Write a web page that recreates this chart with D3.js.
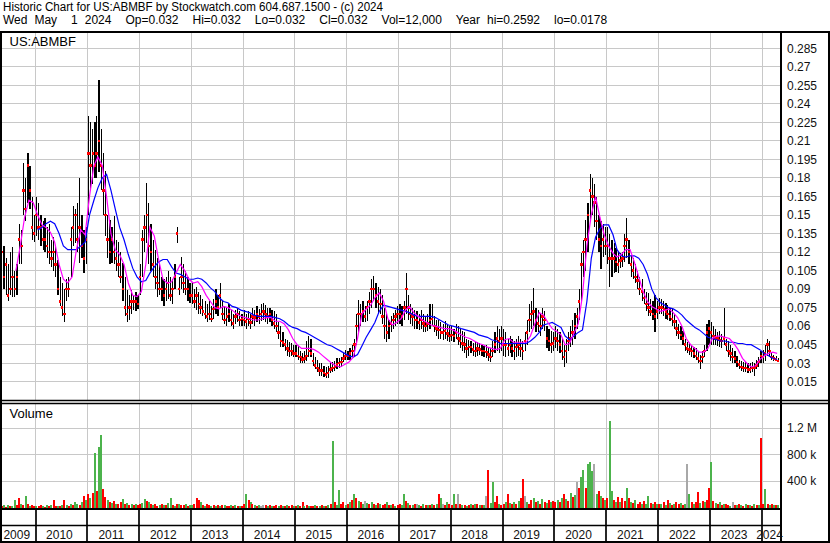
<!DOCTYPE html>
<html><head><meta charset="utf-8">
<script src="https://cdn.jsdelivr.net/npm/d3@7"></script>
<style>body{margin:0;background:#fff;}svg{display:block;font-family:Arial,"Liberation Sans",sans-serif;}</style>
</head><body><svg id="c" width="830" height="543"></svg>
<script>
// ---------- DATA ----------
const years = [2009,2010,2011,2012,2013,2014,2015,2016,2017,2018,2019,2020,2021,2022,2023,2024];
const priceTicks = [0.015,0.03,0.045,0.06,0.075,0.09,0.105,0.12,0.135,0.15,0.165,0.18,0.195,0.21,0.225,0.24,0.255,0.27,0.285];
const priceTickLabels = ["0.015","0.03","0.045","0.06","0.075","0.09","0.105","0.12","0.135","0.15","0.165","0.18","0.195","0.21","0.225","0.24","0.255","0.27","0.285"];
const volTicks = [400,800,1200];            // thousands of shares
const volTickLabels = ["400 k","800 k","1.2 M"];
const headerLine1 = "Historic Chart for US:ABMBF by Stockwatch.com 604.687.1500 - (c) 2024";
const headerLine2 = "Wed May  1 2024  Op=0.032  Hi=0.032  Lo=0.032  Cl=0.032  Vol=12,000  Year hi=0.2592  lo=0.0178";
const symbol = "US:ABMBF";
// half-month bars, first one = first half of May 2009
const hi = [
.13,.125,.115,.11,.12,.124,.105,.11,.143,.138,.192,.18,.2,.19,.165,.15,
.165,.16,.15,.145,.148,.14,.143,.13,.132,.125,.114,.1,.095,.09,.098,.1,.14,.157,.155,.16,.18,.15,.138,.14,
.23,.225,.22,.225,.23,.2592,.22,.2,.186,.15,.146,.14,.149,.13,.128,.12,.111,.1,.089,.085,.089,.085,.088,.085,
.11,.138,.15,.176,.16,.143,.13,.122,.115,.11,.1,.098,.1,.105,.1,.098,.11,.14,.1,.116,.11,.105,.1,.095,
.095,.09,.092,.088,.085,.082,.08,.078,.08,.076,.082,.09,.085,.095,.08,.076,.075,.078,.073,.07,.073,.075,.072,.07,
.073,.07,.072,.07,.075,.073,.076,.074,.078,.079,.077,.075,.075,.073,.072,.07,.063,.06,.055,.05,.049,.047,.046,.045,
.045,.044,.04,.038,.04,.048,.052,.05,.038,.035,.033,.03,.03,.028,.027,.028,.03,.031,.032,.034,.034,.035,.038,.041,
.04,.042,.045,.05,.07,.081,.078,.08,.076,.08,.088,.098,.101,.095,.092,.09,.085,.075,.07,.065,.068,.071,.073,.076,
.078,.076,.08,.103,.085,.078,.075,.073,.072,.07,.073,.07,.068,.07,.078,.078,.068,.065,.065,.063,.062,.064,.062,.06,
.06,.058,.062,.06,.058,.056,.055,.05,.049,.048,.046,.047,.047,.046,.045,.044,.045,.043,.042,.048,.055,.06,.058,.06,
.058,.055,.05,.052,.05,.048,.05,.052,.05,.048,.055,.065,.078,.08,.091,.075,.073,.07,.075,.072,.06,.058,.056,.055,
.06,.058,.055,.05,.045,.05,.055,.06,.065,.071,.075,.09,.119,.13,.146,.16,.183,.18,.175,.165,.15,.145,.143,.14,
.14,.135,.13,.127,.123,.12,.119,.12,.135,.148,.13,.118,.115,.11,.105,.1,.098,.09,.088,.087,.082,.08,.085,.08,
.083,.082,.08,.079,.077,.075,.074,.07,.065,.062,.06,.056,.05,.047,.046,.045,.043,.042,.04,.037,.04,.045,.062,.065,
.063,.06,.058,.055,.056,.054,.075,.05,.048,.045,.042,.04,.036,.033,.032,.031,.031,.03,.03,.031,.03,.033,.035,.04,
.041,.045,.05,.048,.038,.037,.036,.034];
const lo = [
.095,.09,.085,.08,.085,.084,.084,.085,.11,.11,.15,.145,.16,.155,.13,.128,
.133,.13,.125,.122,.12,.115,.11,.108,.105,.1,.085,.076,.068,.063,.08,.084,.1,.125,.127,.12,.111,.115,.103,.11,
.15,.17,.175,.18,.18,.185,.17,.15,.133,.115,.11,.111,.11,.105,.1,.095,.08,.068,.063,.065,.07,.073,.072,.074,
.085,.1,.12,.127,.11,.105,.1,.09,.084,.085,.08,.076,.08,.082,.08,.078,.09,.127,.085,.09,.087,.085,.08,.079,
.078,.075,.073,.07,.07,.068,.066,.063,.065,.063,.066,.07,.068,.075,.065,.062,.06,.063,.06,.058,.062,.063,.06,.06,
.06,.058,.06,.058,.062,.06,.063,.062,.064,.065,.063,.062,.063,.06,.058,.055,.05,.043,.043,.04,.036,.035,.036,.035,
.035,.033,.03,.03,.03,.032,.035,.035,.028,.025,.023,.02,.02,.019,.018,.018,.022,.023,.024,.025,.026,.027,.031,.033,
.033,.033,.035,.036,.045,.055,.06,.063,.063,.064,.07,.075,.08,.075,.071,.07,.062,.05,.047,.05,.055,.058,.06,.062,
.062,.06,.065,.07,.065,.062,.06,.058,.058,.057,.058,.055,.055,.056,.058,.06,.055,.052,.05,.05,.049,.05,.048,.047,
.048,.047,.05,.045,.042,.04,.038,.034,.036,.038,.036,.035,.036,.037,.036,.035,.034,.032,.031,.035,.038,.04,.038,.04,
.036,.035,.036,.038,.035,.033,.035,.036,.035,.033,.04,.045,.055,.058,.06,.055,.055,.052,.058,.056,.042,.04,.038,.04,
.042,.04,.038,.033,.027,.03,.04,.043,.045,.05,.058,.065,.08,.1,.105,.12,.145,.15,.14,.13,.12,.106,.116,.118,
.11,.092,.1,.103,.104,.103,.107,.108,.112,.115,.11,.1,.098,.095,.09,.085,.08,.078,.072,.068,.068,.065,.055,.066,
.07,.07,.068,.066,.065,.064,.06,.058,.052,.05,.049,.045,.04,.038,.037,.035,.034,.033,.03,.025,.03,.035,.04,.045,
.045,.045,.045,.044,.043,.042,.045,.04,.035,.032,.03,.03,.027,.025,.024,.023,.023,.022,.022,.023,.02,.025,.027,.03,
.03,.032,.036,.035,.033,.032,.032,.031];
const cl = [
.12,.1,.11,.085,.09,.1,.09,.1,.13,.125,.17,.155,.19,.17,.14,.135,
.15,.14,.14,.13,.13,.125,.12,.115,.12,.11,.09,.08,.075,.07,.09,.09,.13,.14,.15,.13,.14,.125,.115,.13,
.2,.19,.2,.19,.2,.21,.19,.17,.15,.13,.12,.13,.12,.115,.11,.1,.09,.075,.07,.075,.08,.08,.08,.078,
.1,.13,.14,.15,.125,.12,.11,.1,.095,.09,.09,.085,.09,.095,.085,.09,.1,.135,.09,.1,.095,.09,.09,.085,
.085,.08,.085,.078,.075,.072,.07,.068,.07,.066,.074,.08,.075,.085,.07,.065,.068,.07,.065,.062,.068,.07,.065,.066,
.065,.064,.066,.063,.068,.067,.07,.068,.07,.072,.07,.068,.07,.065,.062,.06,.055,.048,.047,.045,.042,.04,.04,.038,
.038,.036,.035,.033,.034,.036,.04,.038,.032,.028,.026,.024,.024,.022,.021,.022,.025,.026,.027,.029,.03,.031,.034,.036,
.036,.038,.04,.045,.06,.07,.07,.072,.068,.075,.08,.09,.09,.085,.08,.078,.068,.06,.055,.06,.062,.065,.068,.07,
.07,.068,.075,.09,.075,.07,.068,.065,.065,.063,.065,.062,.06,.062,.065,.066,.06,.058,.057,.055,.055,.056,.054,.052,
.053,.052,.055,.05,.048,.046,.045,.042,.043,.043,.041,.04,.042,.041,.04,.04,.039,.037,.035,.04,.045,.05,.048,.05,
.045,.045,.042,.045,.042,.04,.043,.045,.042,.04,.048,.055,.065,.07,.072,.065,.062,.06,.068,.065,.05,.048,.045,.046,
.05,.048,.045,.04,.035,.04,.048,.05,.055,.06,.068,.08,.11,.12,.13,.15,.17,.165,.16,.145,.13,.125,.13,.125,
.125,.115,.115,.115,.112,.11,.113,.115,.125,.13,.12,.11,.105,.1,.097,.09,.088,.083,.078,.075,.072,.07,.068,.072,
.075,.075,.074,.072,.07,.068,.066,.064,.058,.055,.053,.05,.045,.042,.041,.04,.038,.036,.034,.032,.035,.04,.055,.058,
.055,.052,.05,.05,.049,.048,.05,.045,.04,.038,.035,.034,.031,.029,.027,.026,.026,.025,.025,.026,.026,.028,.031,.036,
.035,.038,.045,.04,.035,.034,.033,.032];
// monthly moving averages, first = May 2009
const maShort = [
null,null,null,.105,.125,.148,.162,.16,
.15,.142,.14,.136,.128,.11,.098,.095,.1,.122,.138,.134,
.165,.19,.197,.19,.165,.135,.122,.118,.11,.095,.085,.084,
.088,.11,.14,.133,.114,.098,.095,.096,.103,.11,.105,.098,
.095,.096,.092,.085,.08,.075,.074,.076,.075,.073,.07,.068,
.067,.066,.065,.065,.066,.067,.067,.064,.064,.062,.057,.05,
.045,.042,.042,.042,.041,.039,.036,.033,.03,.028,.027,.029,
.031,.035,.05,.07,.074,.077,.083,.087,.08,.066,.061,.063,
.066,.073,.076,.071,.068,.065,.063,.061,.06,.059,.058,.058,
.057,.055,.053,.051,.05,.048,.046,.045,.043,.042,.041,.042,
.049,.05,.047,.047,.047,.047,.052,.062,.071,.069,.063,.058,
.056,.053,.045,.046,.054,.062,.085,.125,.15,.165,.148,.134,
.125,.119,.116,.118,.122,.122,.112,.1,.088,.08,.076,.074,
.072,.073,.074,.071,.067,.06,.05,.045,.042,.039,.039,.042,
.05,.052,.052,.051,.05,.046,.041,.034,.03,.027,.028,.033,
.036,.038,.039,.038];
const maLong = [
null,null,null,null,null,null,null,null,
.138,.14,.143,.145,.143,.135,.125,.122,.122,.122,.125,.128,
.15,.162,.172,.18,.183,.17,.155,.14,.13,.118,.107,.1,
.096,.097,.103,.108,.112,.114,.114,.108,.103,.102,.1,.098,
.098,.099,.098,.095,.091,.088,.083,.08,.079,.076,.075,.073,
.072,.071,.069,.068,.068,.068,.068,.067,.066,.064,.061,.059,
.058,.056,.055,.053,.051,.049,.047,.045,.044,.042,.04,.038,
.036,.035,.037,.044,.051,.057,.063,.072,.077,.076,.075,.074,
.073,.072,.071,.069,.068,.068,.068,.068,.067,.065,.063,.061,
.06,.059,.058,.057,.056,.055,.053,.052,.051,.049,.048,.046,
.046,.046,.046,.046,.046,.046,.048,.051,.055,.061,.062,.063,
.061,.059,.052,.049,.052,.055,.057,.08,.115,.132,.139,.142,
.142,.134,.122,.117,.116,.117,.117,.115,.11,.102,.09,.083,
.079,.077,.075,.074,.072,.069,.065,.062,.059,.057,.054,.051,
.05,.049,.048,.048,.047,.047,.046,.046,.045,.045,.043,.041,
.038,.036,.034,.033];
// half-month volume (thousands) and bar colour code: g = up, r = down, n = unchanged
const vol = [
20,35,15,40,25,30,110,45,150,60,40,170,55,30,45,25,
30,20,45,25,15,35,20,40,110,30,25,20,45,120,35,20,60,40,80,50,45,90,180,120,
200,150,220,820,250,920,1100,280,160,120,90,70,100,60,50,80,130,60,70,40,55,35,60,45,
50,70,130,100,90,60,40,55,30,45,60,35,40,70,150,45,30,55,60,40,35,50,30,45,
40,60,150,120,80,40,30,50,35,25,45,30,40,20,35,45,25,30,40,20,35,25,30,20,
60,200,120,80,50,40,30,45,20,40,35,25,45,30,20,40,25,35,20,30,45,25,35,20,
25,40,30,80,20,35,25,30,20,40,30,25,35,20,30,45,60,1000,80,40,270,60,80,40,
50,90,120,200,140,100,80,60,100,70,60,90,50,40,70,60,45,55,80,35,40,60,30,45,
60,40,200,100,70,45,35,60,50,40,30,55,40,35,45,60,35,50,210,150,60,40,90,50,
40,210,60,210,50,35,45,30,40,55,35,60,50,45,40,35,180,560,70,380,90,180,60,45,
60,90,200,70,50,80,60,100,140,430,180,90,60,120,150,80,100,60,130,90,70,110,80,100,
90,120,80,150,200,130,100,220,160,190,380,300,460,570,300,650,690,550,660,200,250,180,150,120,
150,1300,250,120,90,160,80,140,100,300,150,90,70,110,60,80,50,100,60,170,70,50,80,60,
60,50,80,40,120,70,45,60,90,50,70,40,60,660,200,80,50,90,240,70,100,80,120,300,
680,100,70,50,90,40,60,50,40,30,80,45,35,50,40,30,60,35,45,30,50,40,35,1050,
60,280,50,40,60,35,45,40];
const volDir = (
"rgrgrggrrgrgrgrr"+
"grrgrgrgrrgrgrgrgrggrgrg"+
"rgrgrggrrgrgrgrrgrgrgrgr"+
"rggrgrgrrgrgrggrgrgrrgrg"+
"grrrgrgrrgrgrgrgrrgrgrgr"+
"rgrgrgrgnnrgrgrrgrgrgrrg"+
"rgrrgrgrrgrgrgrgrgrggrrg"+
"rgrgrgrgngrgrgrgrrgrgrgr"+
"rggrgrgrngrgrgrgrgrgnrgr"+
"rgrnrgrgrgrgrgrgnrggrrgr"+
"rgrgrgrgrrngrrgrgrgrgrgr"+
"rgrgrgrgrgnrggrgggngrgrg"+
"rggrgrgrrgrgrgrrgrggrgrg"+
"rgrgrgrgrrgrgngrgrrgrgrr"+
"grgrgrgrrgnrgrgrgrgrgrgr"+
"rgrgrgrg").split("");

// ---------- LAYOUT ----------
const W = 830, H = 543;
const PX0 = 2, PX1 = 780, PT = 33, PB = 400;
const VT = 404, VB = 508;
const svg = d3.select("#c");
const x = d3.scaleUtc().domain([new Date(Date.UTC(2010,0,1)), new Date(Date.UTC(2024,0,1))]).range([35.5, 762.1]);
const y = d3.scaleLinear().domain([0, 0.285]).range([400.3, 48.3]);
const yv = d3.scaleLinear().domain([0, 1200]).range([507.5, 428]);
const halfDate = i => new Date(Date.UTC(2009, 4 + Math.floor(i/2), i % 2 === 0 ? 8 : 23));
const monthDate = j => new Date(Date.UTC(2009, 4 + j, 16));
const bars = hi.map((h,i) => ({d: halfDate(i), h, l: lo[i], c: cl[i], v: vol[i], dir: volDir[i]}));
const px = v => Math.floor(v) + 0.5;
const grid = "#c8c8c8";

svg.append("rect").attr("width", W).attr("height", H).attr("fill", "#fff");

const defs = svg.append("defs");
defs.append("clipPath").attr("id","cp").append("rect").attr("x",PX0).attr("y",PT).attr("width",PX1-PX0).attr("height",PB-PT);
defs.append("clipPath").attr("id","cv").append("rect").attr("x",PX0).attr("y",VT).attr("width",PX1-PX0).attr("height",VB-VT+1);

// header
svg.append("text").attr("x",3).attr("y",11).attr("font-size",12).attr("textLength",380).attr("lengthAdjust","spacingAndGlyphs").text(headerLine1);
const h2 = svg.append("text").attr("x",3).attr("y",24).attr("font-size",12).style("white-space","pre").text(headerLine2);
{
  const natural = h2.node().getComputedTextLength();
  const nSpaces = (headerLine2.match(/ /g) || []).length;
  h2.style("word-spacing", ((604 - natural) / nSpaces).toFixed(2) + "px");
}

const yearBounds = years.slice(1).map(yr => new Date(Date.UTC(yr,0,1)));

// price gridlines
const gP = svg.append("g").attr("shape-rendering","crispEdges");
gP.selectAll("line.h").data(priceTicks).join("line")
  .attr("x1",PX0).attr("x2",PX1).attr("y1",d=>px(y(d))).attr("y2",d=>px(y(d)))
  .attr("stroke",grid).attr("stroke-width",1);
gP.selectAll("line.v").data(yearBounds).join("line")
  .attr("x1",d=>px(x(d))).attr("x2",d=>px(x(d))).attr("y1",PT).attr("y2",PB)
  .attr("stroke",grid).attr("stroke-width",1);

// volume gridlines
const gV = svg.append("g").attr("shape-rendering","crispEdges");
gV.selectAll("line.h").data(volTicks).join("line")
  .attr("x1",PX0).attr("x2",PX1).attr("y1",d=>px(yv(d))).attr("y2",d=>px(yv(d)))
  .attr("stroke",grid);
gV.selectAll("line.v").data(yearBounds).join("line")
  .attr("x1",d=>px(x(d))).attr("x2",d=>px(x(d))).attr("y1",VT).attr("y2",VB)
  .attr("stroke",grid);

// price bars
const gB = svg.append("g").attr("clip-path","url(#cp)");
gB.append("g").attr("shape-rendering","crispEdges").selectAll("rect").data(bars).join("rect")
  .attr("x",d=>x(d.d)-0.5).attr("width",1.2)
  .attr("y",d=>y(d.h)).attr("height",d=>Math.max(1,y(d.l)-y(d.h)))
  .attr("fill","#000");
gB.append("g").attr("shape-rendering","crispEdges").selectAll("rect").data(bars).join("rect")
  .attr("x",d=>x(d.d)-1.25).attr("y",d=>y(d.c)-1.25).attr("width",2.5).attr("height",2.5)
  .attr("fill","#ff0000");

// moving averages
const maLine = arr => d3.line().defined(d=>d!=null).x((d,j)=>x(monthDate(j))).y(d=>y(d))(arr);
gB.append("path").attr("d",maLine(maLong)).attr("fill","none").attr("stroke","#0000ff").attr("stroke-width",1.2);
gB.append("path").attr("d",maLine(maShort)).attr("fill","none").attr("stroke","#ff00ff").attr("stroke-width",1.2);

// volume bars
const colV = {g:"#4cb34c", r:"#ff0000", n:"#a8a8a8"};
svg.append("g").attr("clip-path","url(#cv)").attr("shape-rendering","crispEdges").selectAll("rect").data(bars).join("rect")
  .attr("x",d=>Math.round(x(d.d))-1).attr("width",2)
  .attr("y",d=>yv(d.v)).attr("height",d=>yv(0)-yv(d.v)+1)
  .attr("fill",d=>colV[d.dir]);

// labels
svg.append("text").attr("x",9.5).attr("y",46).attr("font-size",13).text(symbol);
svg.append("text").attr("x",9.5).attr("y",417.5).attr("font-size",13).text("Volume");
svg.append("g").selectAll("text").data(priceTicks).join("text")
  .attr("x",787).attr("y",d=>y(d)+4.3).attr("font-size",12).attr("fill","#111")
  .text((d,i)=>priceTickLabels[i]);
svg.append("g").selectAll("text").data(volTicks).join("text")
  .attr("x",787).attr("y",d=>yv(d)+4.3).attr("font-size",12).attr("fill","#111")
  .text((d,i)=>volTickLabels[i]);

// frame lines
const black = (x1,y1,x2,y2,w) => svg.append("line").attr("x1",x1).attr("y1",y1).attr("x2",x2).attr("y2",y2).attr("stroke","#000").attr("stroke-width",w);
black(0,32,W,32,2);
black(0,400.5,W,400.5,1.3);
black(0,403.5,W,403.5,1.3);
black(0,509,781,509,2);
black(0,525.5,781,525.5,1.5);
black(0,542,W,542,2);
black(1,31,1,H,2);
black(781,31,781,H,2);
black(829,31,829,H,2);

// date strip
svg.append("g").selectAll("line").data(yearBounds).join("line")
  .attr("x1",d=>Math.round(x(d))).attr("x2",d=>Math.round(x(d))).attr("y1",509).attr("y2",542)
  .attr("stroke","#000").attr("stroke-width",1.7);
svg.append("g").selectAll("text").data(years).join("text")
  .attr("x",yr=>{const a=Math.max(PX0,x(new Date(Date.UTC(yr,0,1)))), b=Math.min(781,x(new Date(Date.UTC(yr+1,0,1)))); return (a+b)/2-2;})
  .attr("y",539).attr("font-size",12).attr("text-anchor","middle").attr("fill","#111")
  .text(yr=>String(yr));
</script></body></html>
